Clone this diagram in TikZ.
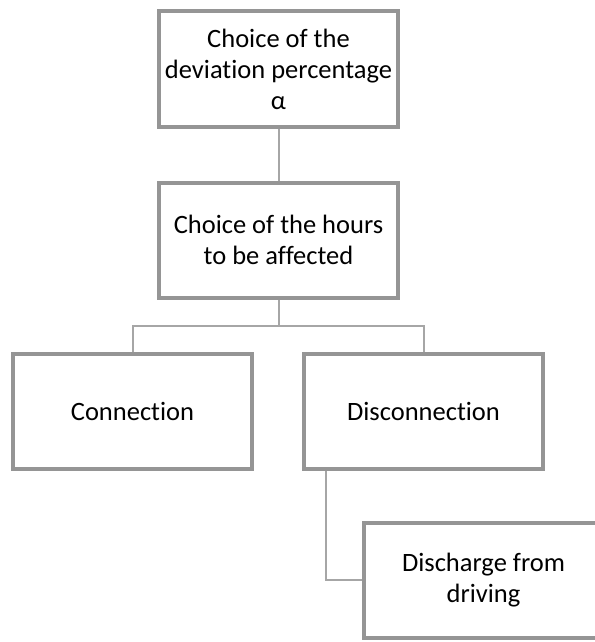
\documentclass[tikz,border=0pt]{standalone}
\usepackage{fontspec}
\setmainfont[RawFeature={-liga;-clig;-dlig}]{Carlito}
\usetikzlibrary{positioning}
\definecolor{boxgray}{HTML}{959595}
\definecolor{linkgray}{HTML}{A6A6A6}

\begin{document}
\begin{tikzpicture}[auto ,node distance =171pt and 146pt ,on grid ,
stepbox/.style ={rectangle ,draw =boxgray ,line width =4pt ,fill =white ,
minimum width =239pt ,minimum height =115pt ,align =center ,
font =\fontsize{26.5}{31}\selectfont},
link/.style ={draw =linkgray ,line width =2pt}
]
\useasboundingbox (0,0) rectangle (594pt,-642pt);
\node[stepbox] (T) at (278.5pt,-69pt) {Choice of the\\deviation percentage\\α};
\node[stepbox] (H) [below = of T] {Choice of the hours\\to be affected};
\node[stepbox] (C) [below left = 171pt and 146pt of H] {Connection};
\node[stepbox] (D) [below right = 171pt and 145pt of H] {Disconnection};
% box runs off the right edge of the page
\node[stepbox ,minimum width =262pt] (R) [below right = 169pt and 71.5pt of D] {\hspace*{-23pt}Discharge from\\\hspace*{-23pt}driving};
\draw[link] (T) -- (H);
\draw[link] (H.south) -- ++(0,-26pt) -| (C.north);
\draw[link] (H.south) -- ++(0,-26pt) -| (D.north);
\draw[link] ([xshift=24pt]D.south west) |- (R.west);
\end{tikzpicture}
\end{document}
